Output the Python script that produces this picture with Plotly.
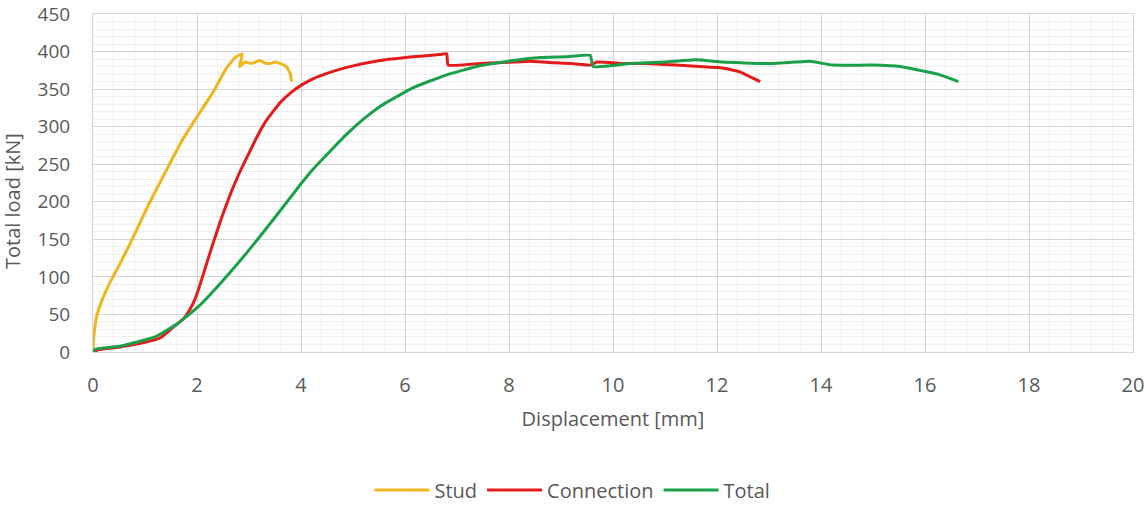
import plotly.graph_objects as go

# ---- data ----
stud_x = [0, 0.01, 0.03, 0.08, 0.18, 0.33, 0.5, 0.74, 1.06, 1.38, 1.7, 2.0, 2.3, 2.55, 2.73, 2.87, 2.82, 2.92, 3.05,
          3.21, 3.3, 3.4, 3.5, 3.6, 3.72, 3.79, 3.82]
stud_y = [0, 15, 30, 50, 70, 93, 115, 148, 195, 238, 280, 313, 345, 376, 392, 397, 380, 386, 384,
          388, 385, 384, 386, 384, 380, 371, 360]

conn_x = [0, 0.1, 0.54, 1.0, 1.3, 1.63, 1.75, 1.85, 1.96, 2.06, 2.15, 2.31, 2.47, 2.63, 2.8, 2.98, 3.15, 3.34, 3.6,
          3.8, 4.0, 4.24, 4.5, 4.88, 5.52, 6.16, 6.67, 6.8, 6.83, 7.44, 8.08, 8.4, 8.9, 9.2, 9.56, 9.69, 10.2, 10.65,
          11.2, 11.67, 12.1, 12.44, 12.65, 12.83]
conn_y = [0, 3, 7, 13, 19, 38, 45, 55, 70, 90, 110, 145, 178, 208, 236, 262, 286, 309, 332,
          345, 355, 364, 371, 379, 388, 393, 396, 397, 382, 384, 386, 387, 385, 384, 382, 386, 384, 384,
          382, 380, 378, 373, 366, 360]

total_x = [0, 0.05, 0.54, 1.19, 1.63, 2.02, 2.47, 2.98, 3.6, 4.0, 4.24, 4.5, 4.88, 5.2, 5.52, 6.16, 6.8, 7.44, 8.08,
           8.6, 9.1, 9.56, 9.62, 10.33, 11.0, 11.6, 12.1, 12.96, 13.5, 13.79, 14.23, 15.0, 15.52, 16.03, 16.29, 16.64]
total_y = [0, 4, 8, 20, 38, 60, 93, 134, 188, 224, 244, 263, 290, 310, 327, 352, 369, 381, 388,
           392, 393, 395, 380, 384, 386, 389, 386, 384, 386, 387, 382, 382, 380, 373, 369, 360]

series_names = ["Stud", "Connection", "Total"]
series_colors = ["#F0B51E", "#E41B1B", "#1BA04A"]

x_ticks = [0, 2, 4, 6, 8, 10, 12, 14, 16, 18, 20]
y_ticks = [0, 50, 100, 150, 200, 250, 300, 350, 400, 450]

FONT = "'Open Sans', sans-serif"
TXT = "#595959"
FS = 20

fig = go.Figure()
for name, xs, ys, col in zip(series_names, [stud_x, conn_x, total_x], [stud_y, conn_y, total_y], series_colors):
    fig.add_trace(go.Scatter(x=xs, y=ys, mode="lines", name=name,
                             line=dict(color=col, width=3, shape="spline", smoothing=0.4)))

fig.update_layout(
    width=1145, height=511,
    margin=dict(l=93, r=12, t=14, b=159, autoexpand=False),
    paper_bgcolor="white", plot_bgcolor="white",
    font=dict(family=FONT, color=TXT, size=FS),
    showlegend=True,
    legend=dict(orientation="h", xref="container", yref="container",
                x=0.5, xanchor="center", y=1 - 490 / 511, yanchor="middle",
                font=dict(size=FS, color=TXT), itemwidth=55,
                traceorder="normal"),
    annotations=[dict(text="Total load [kN]", textangle=-90, xref="paper", yref="paper",
                      x=0, xanchor="center", xshift=-81, y=(352 - 201) / 338, yanchor="middle",
                      showarrow=False, font=dict(size=FS, color=TXT))],
)
fig.update_xaxes(
    range=[0, 20], tickvals=x_ticks, ticktext=[str(v) for v in x_ticks],
    showgrid=True, gridcolor="#D6D6D6", gridwidth=1,
    minor=dict(dtick=0.4, showgrid=True, gridcolor="#EFEFEF", gridwidth=1),
    showline=True, linecolor="#D6D6D6", mirror=True, zeroline=False,
    ticks="outside", ticklen=15, tickcolor="rgba(0,0,0,0)", tickfont=dict(size=FS, color=TXT),
    ticklabeloverflow="allow",
    title=dict(text="Displacement [mm]", font=dict(size=FS, color=TXT), standoff=14),
    automargin=False,
)
fig.update_yaxes(
    range=[0, 450], tickvals=y_ticks, ticktext=[str(v) for v in y_ticks],
    showgrid=True, gridcolor="#D6D6D6", gridwidth=1,
    minor=dict(dtick=10, showgrid=True, gridcolor="#EFEFEF", gridwidth=1),
    showline=True, linecolor="#D6D6D6", mirror=True, zeroline=False,
    ticks="outside", ticklen=18, tickcolor="rgba(0,0,0,0)", tickfont=dict(size=19, color=TXT),
    ticklabeloverflow="allow",
    automargin=False,
)

fig.write_html("out.html", config={"displayModeBar": False},
               post_script="document.body.style.margin='0';")
